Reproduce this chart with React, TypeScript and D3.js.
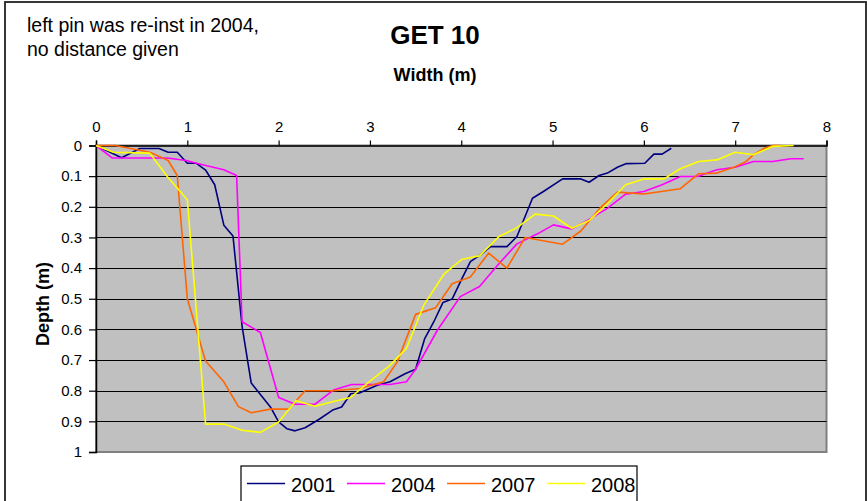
import React, { useRef, useEffect } from "react";
import * as d3 from "d3";

type Pt = [number, number];

const years = ["2001", "2004", "2007", "2008"];
const colors = ["#000080", "#FF00FF", "#FF6600", "#FFFF00"];

// [width (m), depth (m)]
const s2001: Pt[] = [
  [0, 0], [0.28, 0.04], [0.48, 0.01], [0.69, 0.01], [0.79, 0.022], [0.89, 0.022], [1.0, 0.058],
  [1.1, 0.058], [1.2, 0.08], [1.3, 0.128], [1.4, 0.26], [1.5, 0.295], [1.6, 0.59], [1.7, 0.775],
  [1.91, 0.853], [2.0, 0.902], [2.09, 0.924], [2.18, 0.931], [2.29, 0.921], [2.44, 0.894],
  [2.6, 0.862], [2.69, 0.853], [2.79, 0.81], [2.89, 0.807], [3.08, 0.782], [3.22, 0.771],
  [3.39, 0.744], [3.5, 0.73], [3.6, 0.63], [3.7, 0.575], [3.8, 0.512], [3.9, 0.501],
  [4.01, 0.433], [4.1, 0.379], [4.21, 0.357], [4.32, 0.33], [4.5, 0.33], [4.61, 0.297],
  [4.78, 0.172], [4.9, 0.15], [5.11, 0.109], [5.31, 0.109], [5.4, 0.12], [5.51, 0.098],
  [5.6, 0.09], [5.71, 0.071], [5.81, 0.059], [6.01, 0.058], [6.11, 0.028], [6.2, 0.028], [6.3, 0.009],
];
const s2004: Pt[] = [
  [0, 0], [0.18, 0.041], [0.78, 0.041], [0.99, 0.049], [1.1, 0.058], [1.4, 0.079], [1.54, 0.098],
  [1.6, 0.575], [1.8, 0.61], [2.0, 0.822], [2.18, 0.844], [2.4, 0.844], [2.6, 0.798], [2.8, 0.78],
  [3.22, 0.78], [3.4, 0.771], [3.5, 0.73], [3.74, 0.602], [3.99, 0.493], [4.2, 0.46], [4.4, 0.39],
  [4.61, 0.321], [4.83, 0.289], [5.01, 0.259], [5.21, 0.272], [5.4, 0.241], [5.6, 0.205],
  [5.8, 0.159], [6.0, 0.15], [6.2, 0.128], [6.4, 0.101], [6.59, 0.101], [6.8, 0.079], [7.0, 0.071],
  [7.2, 0.052], [7.41, 0.052], [7.61, 0.043], [7.75, 0.043],
];
const s2007: Pt[] = [
  [0, 0], [0.21, 0], [0.59, 0.022], [0.79, 0.049], [0.89, 0.098], [1.0, 0.5], [1.2, 0.703],
  [1.4, 0.771], [1.56, 0.852], [1.7, 0.872], [1.91, 0.86], [2.11, 0.86], [2.29, 0.8], [2.6, 0.8],
  [2.89, 0.793], [3.15, 0.771], [3.3, 0.706], [3.5, 0.551], [3.72, 0.529], [3.9, 0.451],
  [4.1, 0.429], [4.3, 0.351], [4.5, 0.4], [4.7, 0.3], [5.11, 0.322], [5.31, 0.279], [5.53, 0.201],
  [5.71, 0.152], [6.0, 0.158], [6.4, 0.141], [6.6, 0.092], [6.8, 0.09], [7.0, 0.069], [7.12, 0.052],
  [7.2, 0.03], [7.32, 0.009], [7.41, 0], [7.5, 0],
];
const s2008: Pt[] = [
  [0, 0], [0.19, 0.022], [0.59, 0.025], [0.78, 0.101], [1.0, 0.177], [1.2, 0.909], [1.4, 0.909],
  [1.6, 0.929], [1.8, 0.936], [2.0, 0.902], [2.19, 0.833], [2.4, 0.851], [2.6, 0.835], [2.79, 0.822],
  [2.99, 0.771], [3.21, 0.72], [3.4, 0.662], [3.59, 0.521], [3.81, 0.42], [4.01, 0.371], [4.2, 0.36],
  [4.41, 0.298], [4.61, 0.268], [4.81, 0.224], [5.01, 0.23], [5.21, 0.27], [5.4, 0.245], [5.6, 0.19],
  [5.8, 0.128], [6.0, 0.109], [6.22, 0.109], [6.4, 0.076], [6.6, 0.052], [6.8, 0.047], [7.0, 0.022],
  [7.2, 0.03], [7.41, 0.003], [7.64, 0],
];
const series = [s2001, s2004, s2007, s2008];

const xTicks = [0, 1, 2, 3, 4, 5, 6, 7, 8];
const yTicks = [0, 0.1, 0.2, 0.3, 0.4, 0.5, 0.6, 0.7, 0.8, 0.9, 1];
const note = ["left pin was re-inst in 2004,", "no distance given"];

const App = () => {
  const ref = useRef<SVGSVGElement>(null);

  useEffect(() => {
    const W = 867, H = 501;
    const plot = { left: 96, right: 826.5, top: 145.5, bottom: 452 };
    const font = "Arial, 'Liberation Sans', sans-serif";

    const svg = d3.select(ref.current);
    svg.selectAll("*").remove();
    svg.attr("width", W).attr("height", H).style("font-family", font);

    // chart frame
    svg.append("rect").attr("width", W).attr("height", H).attr("fill", "#fff");
    svg.append("rect")
      .attr("x", 5).attr("y", 2).attr("width", 861).attr("height", 520)
      .attr("fill", "none").attr("stroke", "#222").attr("stroke-width", 1.8);

    const x = d3.scaleLinear().domain([0, 8]).range([plot.left, plot.right]);
    const y = d3.scaleLinear().domain([0, 1]).range([plot.top, plot.bottom]);

    // plot area
    svg.append("rect")
      .attr("x", plot.left).attr("y", plot.top)
      .attr("width", plot.right - plot.left).attr("height", plot.bottom - plot.top)
      .attr("fill", "#C0C0C0").attr("stroke", "#808080").attr("stroke-width", 2);

    // gridlines
    svg.append("g").selectAll("line")
      .data(yTicks.slice(1, -1))
      .enter().append("line")
      .attr("x1", plot.left).attr("x2", plot.right)
      .attr("y1", d => Math.round(y(d)) + 0.5).attr("y2", d => Math.round(y(d)) + 0.5)
      .attr("stroke", "#000").attr("stroke-width", 1.2);

    // axes
    const xAxis = svg.append("g")
      .attr("transform", `translate(0, ${plot.top})`)
      .call(d3.axisTop(x).tickValues(xTicks).tickSize(5).tickPadding(9).tickFormat(d3.format("d")));
    const yAxis = svg.append("g")
      .attr("transform", `translate(${plot.left}, 0)`)
      .call(d3.axisLeft(y).tickValues(yTicks).tickSize(7).tickPadding(7).tickFormat(d => String(d)));
    [xAxis, yAxis].forEach(g => {
      g.select(".domain").attr("stroke", "#000").attr("stroke-width", 1.5);
      g.selectAll(".tick line").attr("stroke", "#000").attr("stroke-width", 1.2);
      g.selectAll("text").attr("fill", "#000").style("font-size", "15px").style("font-family", font);
    });

    // series
    const line = d3.line<Pt>().x(d => x(d[0])).y(d => y(d[1]));
    svg.append("g").selectAll("path")
      .data(series)
      .enter().append("path")
      .attr("d", d => line(d))
      .attr("fill", "none")
      .attr("stroke", (_, i) => colors[i])
      .attr("stroke-width", 1.6)
      .attr("stroke-linejoin", "round");

    // titles
    svg.append("text").attr("x", 435).attr("y", 44).attr("text-anchor", "middle")
      .style("font-size", "26px").style("font-weight", "bold").text("GET 10");
    svg.append("text").attr("x", 435).attr("y", 81).attr("text-anchor", "middle")
      .style("font-size", "18px").style("font-weight", "bold").text("Width (m)");
    svg.append("text")
      .attr("transform", `translate(49, 304) rotate(-90)`)
      .attr("text-anchor", "middle")
      .style("font-size", "18px").style("font-weight", "bold").text("Depth (m)");

    svg.append("g").selectAll("text")
      .data(note)
      .enter().append("text")
      .attr("x", 27).attr("y", (_, i) => 32 + i * 24)
      .style("font-size", "19.5px").text(d => d);

    // legend
    const legend = svg.append("g").attr("transform", "translate(241, 466)");
    legend.append("rect").attr("width", 396).attr("height", 40)
      .attr("fill", "#fff").attr("stroke", "#000").attr("stroke-width", 1.2);
    const item = legend.selectAll("g.item")
      .data(years)
      .enter().append("g")
      .attr("class", "item")
      .attr("transform", (_, i) => `translate(${6 + i * 100}, 0)`);
    item.append("line").attr("x1", 0).attr("x2", 38).attr("y1", 17.5).attr("y2", 17.5)
      .attr("stroke", (_, i) => colors[i]).attr("stroke-width", 1.6);
    item.append("text").attr("x", 44).attr("y", 26)
      .style("font-size", "20px").text(d => d);
  }, []);

  return (
    <div style={{ position: "fixed", left: 0, top: 0 }}>
      <svg ref={ref} style={{ display: "block" }}></svg>
    </div>
  );
};

export default App;
